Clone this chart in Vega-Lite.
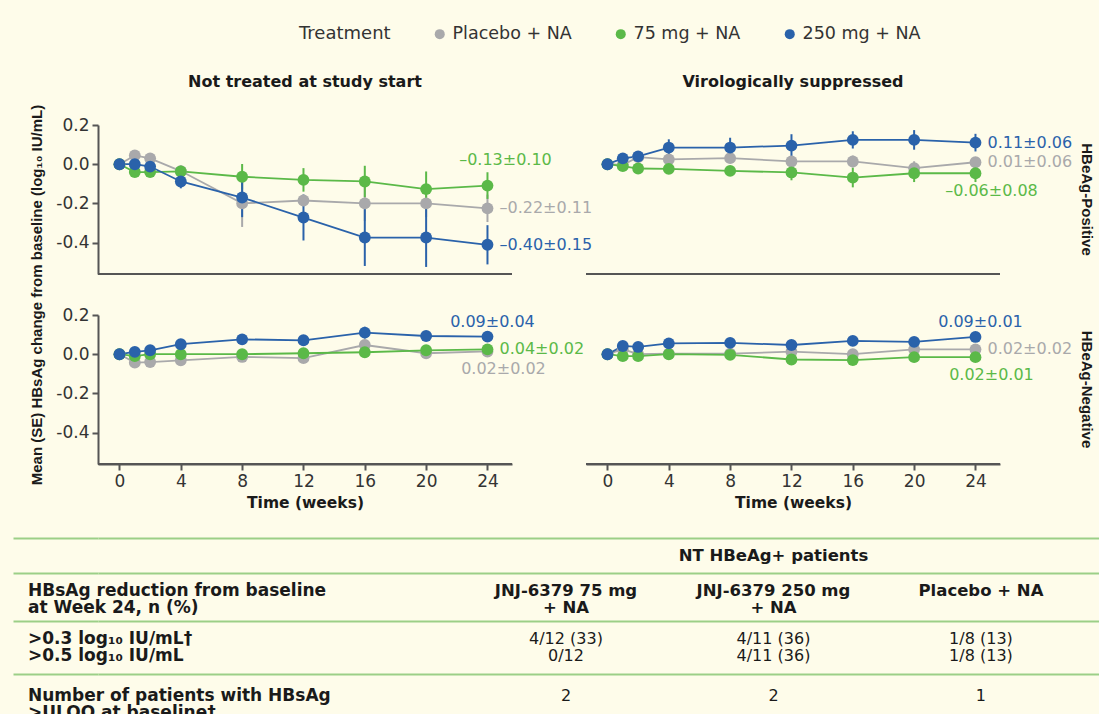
{
  "$schema": "https://vega.github.io/schema/vega-lite/v6.json",
  "background": "#FEFCEA",
  "padding": {"left": 12, "top": 25, "right": 0, "bottom": 0},
  "config": {"view": {"stroke": null}, "font": "DejaVu Sans"},
  "datasets": {
    "series": [
      {"pop":"NT","status":"Pos","trt":"Placebo + NA","week":0,"mean":0,"se":0},
      {"pop":"NT","status":"Pos","trt":"Placebo + NA","week":1,"mean":0.045,"se":0.01},
      {"pop":"NT","status":"Pos","trt":"Placebo + NA","week":2,"mean":0.03,"se":0.01},
      {"pop":"NT","status":"Pos","trt":"Placebo + NA","week":4,"mean":-0.035,"se":0.02},
      {"pop":"NT","status":"Pos","trt":"Placebo + NA","week":8,"mean":-0.2,"se":0.12},
      {"pop":"NT","status":"Pos","trt":"Placebo + NA","week":12,"mean":-0.185,"se":0.03},
      {"pop":"NT","status":"Pos","trt":"Placebo + NA","week":16,"mean":-0.2,"se":0.09},
      {"pop":"NT","status":"Pos","trt":"Placebo + NA","week":20,"mean":-0.2,"se":0.07},
      {"pop":"NT","status":"Pos","trt":"Placebo + NA","week":24,"mean":-0.225,"se":0.07,"label":"–0.22±0.11","pos":"right"},
      {"pop":"NT","status":"Pos","trt":"75 mg + NA","week":0,"mean":0,"se":0},
      {"pop":"NT","status":"Pos","trt":"75 mg + NA","week":1,"mean":-0.04,"se":0.01},
      {"pop":"NT","status":"Pos","trt":"75 mg + NA","week":2,"mean":-0.04,"se":0.01},
      {"pop":"NT","status":"Pos","trt":"75 mg + NA","week":4,"mean":-0.037,"se":0.03},
      {"pop":"NT","status":"Pos","trt":"75 mg + NA","week":8,"mean":-0.064,"se":0.065},
      {"pop":"NT","status":"Pos","trt":"75 mg + NA","week":12,"mean":-0.08,"se":0.06},
      {"pop":"NT","status":"Pos","trt":"75 mg + NA","week":16,"mean":-0.088,"se":0.08},
      {"pop":"NT","status":"Pos","trt":"75 mg + NA","week":20,"mean":-0.127,"se":0.09},
      {"pop":"NT","status":"Pos","trt":"75 mg + NA","week":24,"mean":-0.109,"se":0.068,"label":"–0.13±0.10","pos":"high"},
      {"pop":"NT","status":"Pos","trt":"250 mg + NA","week":0,"mean":0,"se":0},
      {"pop":"NT","status":"Pos","trt":"250 mg + NA","week":1,"mean":0,"se":0.01},
      {"pop":"NT","status":"Pos","trt":"250 mg + NA","week":2,"mean":-0.012,"se":0.01},
      {"pop":"NT","status":"Pos","trt":"250 mg + NA","week":4,"mean":-0.088,"se":0.035},
      {"pop":"NT","status":"Pos","trt":"250 mg + NA","week":8,"mean":-0.17,"se":0.1},
      {"pop":"NT","status":"Pos","trt":"250 mg + NA","week":12,"mean":-0.272,"se":0.117},
      {"pop":"NT","status":"Pos","trt":"250 mg + NA","week":16,"mean":-0.374,"se":0.145},
      {"pop":"NT","status":"Pos","trt":"250 mg + NA","week":20,"mean":-0.374,"se":0.15},
      {"pop":"NT","status":"Pos","trt":"250 mg + NA","week":24,"mean":-0.411,"se":0.1,"label":"–0.40±0.15","pos":"right"},

      {"pop":"VS","status":"Pos","trt":"Placebo + NA","week":0,"mean":0,"se":0},
      {"pop":"VS","status":"Pos","trt":"Placebo + NA","week":1,"mean":-0.003,"se":0.01},
      {"pop":"VS","status":"Pos","trt":"Placebo + NA","week":2,"mean":0.036,"se":0.01},
      {"pop":"VS","status":"Pos","trt":"Placebo + NA","week":4,"mean":0.025,"se":0.015},
      {"pop":"VS","status":"Pos","trt":"Placebo + NA","week":8,"mean":0.031,"se":0.015},
      {"pop":"VS","status":"Pos","trt":"Placebo + NA","week":12,"mean":0.014,"se":0.015},
      {"pop":"VS","status":"Pos","trt":"Placebo + NA","week":16,"mean":0.014,"se":0.03},
      {"pop":"VS","status":"Pos","trt":"Placebo + NA","week":20,"mean":-0.02,"se":0.035},
      {"pop":"VS","status":"Pos","trt":"Placebo + NA","week":24,"mean":0.01,"se":0.02,"label":"0.01±0.06","pos":"right"},
      {"pop":"VS","status":"Pos","trt":"75 mg + NA","week":0,"mean":0,"se":0},
      {"pop":"VS","status":"Pos","trt":"75 mg + NA","week":1,"mean":-0.01,"se":0.01},
      {"pop":"VS","status":"Pos","trt":"75 mg + NA","week":2,"mean":-0.022,"se":0.015},
      {"pop":"VS","status":"Pos","trt":"75 mg + NA","week":4,"mean":-0.024,"se":0.02},
      {"pop":"VS","status":"Pos","trt":"75 mg + NA","week":8,"mean":-0.034,"se":0.02},
      {"pop":"VS","status":"Pos","trt":"75 mg + NA","week":12,"mean":-0.042,"se":0.04},
      {"pop":"VS","status":"Pos","trt":"75 mg + NA","week":16,"mean":-0.068,"se":0.05},
      {"pop":"VS","status":"Pos","trt":"75 mg + NA","week":20,"mean":-0.046,"se":0.045},
      {"pop":"VS","status":"Pos","trt":"75 mg + NA","week":24,"mean":-0.046,"se":0.045,"label":"–0.06±0.08","pos":"below"},
      {"pop":"VS","status":"Pos","trt":"250 mg + NA","week":0,"mean":0,"se":0},
      {"pop":"VS","status":"Pos","trt":"250 mg + NA","week":1,"mean":0.03,"se":0.01},
      {"pop":"VS","status":"Pos","trt":"250 mg + NA","week":2,"mean":0.04,"se":0.01},
      {"pop":"VS","status":"Pos","trt":"250 mg + NA","week":4,"mean":0.085,"se":0.042},
      {"pop":"VS","status":"Pos","trt":"250 mg + NA","week":8,"mean":0.085,"se":0.05},
      {"pop":"VS","status":"Pos","trt":"250 mg + NA","week":12,"mean":0.095,"se":0.058},
      {"pop":"VS","status":"Pos","trt":"250 mg + NA","week":16,"mean":0.124,"se":0.044},
      {"pop":"VS","status":"Pos","trt":"250 mg + NA","week":20,"mean":0.124,"se":0.05},
      {"pop":"VS","status":"Pos","trt":"250 mg + NA","week":24,"mean":0.11,"se":0.045,"label":"0.11±0.06","pos":"right"},

      {"pop":"NT","status":"Neg","trt":"Placebo + NA","week":0,"mean":0,"se":0},
      {"pop":"NT","status":"Neg","trt":"Placebo + NA","week":1,"mean":-0.043,"se":0.01},
      {"pop":"NT","status":"Neg","trt":"Placebo + NA","week":2,"mean":-0.04,"se":0.01},
      {"pop":"NT","status":"Neg","trt":"Placebo + NA","week":4,"mean":-0.031,"se":0.01},
      {"pop":"NT","status":"Neg","trt":"Placebo + NA","week":8,"mean":-0.014,"se":0.01},
      {"pop":"NT","status":"Neg","trt":"Placebo + NA","week":12,"mean":-0.02,"se":0.01},
      {"pop":"NT","status":"Neg","trt":"Placebo + NA","week":16,"mean":0.047,"se":0.015},
      {"pop":"NT","status":"Neg","trt":"Placebo + NA","week":20,"mean":0.005,"se":0.015},
      {"pop":"NT","status":"Neg","trt":"Placebo + NA","week":24,"mean":0.014,"se":0.015,"label":"0.02±0.02","pos":"below"},
      {"pop":"NT","status":"Neg","trt":"75 mg + NA","week":0,"mean":0,"se":0},
      {"pop":"NT","status":"Neg","trt":"75 mg + NA","week":1,"mean":-0.01,"se":0.01},
      {"pop":"NT","status":"Neg","trt":"75 mg + NA","week":2,"mean":0,"se":0.01},
      {"pop":"NT","status":"Neg","trt":"75 mg + NA","week":4,"mean":0,"se":0.01},
      {"pop":"NT","status":"Neg","trt":"75 mg + NA","week":8,"mean":0,"se":0.01},
      {"pop":"NT","status":"Neg","trt":"75 mg + NA","week":12,"mean":0.005,"se":0.01},
      {"pop":"NT","status":"Neg","trt":"75 mg + NA","week":16,"mean":0.01,"se":0.01},
      {"pop":"NT","status":"Neg","trt":"75 mg + NA","week":20,"mean":0.02,"se":0.015},
      {"pop":"NT","status":"Neg","trt":"75 mg + NA","week":24,"mean":0.025,"se":0.015,"label":"0.04±0.02","pos":"right"},
      {"pop":"NT","status":"Neg","trt":"250 mg + NA","week":0,"mean":0,"se":0},
      {"pop":"NT","status":"Neg","trt":"250 mg + NA","week":1,"mean":0.012,"se":0.01},
      {"pop":"NT","status":"Neg","trt":"250 mg + NA","week":2,"mean":0.02,"se":0.01},
      {"pop":"NT","status":"Neg","trt":"250 mg + NA","week":4,"mean":0.051,"se":0.015},
      {"pop":"NT","status":"Neg","trt":"250 mg + NA","week":8,"mean":0.076,"se":0.02},
      {"pop":"NT","status":"Neg","trt":"250 mg + NA","week":12,"mean":0.071,"se":0.025},
      {"pop":"NT","status":"Neg","trt":"250 mg + NA","week":16,"mean":0.11,"se":0.03},
      {"pop":"NT","status":"Neg","trt":"250 mg + NA","week":20,"mean":0.093,"se":0.025},
      {"pop":"NT","status":"Neg","trt":"250 mg + NA","week":24,"mean":0.09,"se":0.02,"label":"0.09±0.04","pos":"above"},

      {"pop":"VS","status":"Neg","trt":"Placebo + NA","week":0,"mean":0,"se":0},
      {"pop":"VS","status":"Neg","trt":"Placebo + NA","week":1,"mean":0.025,"se":0.01},
      {"pop":"VS","status":"Neg","trt":"Placebo + NA","week":2,"mean":0,"se":0.01},
      {"pop":"VS","status":"Neg","trt":"Placebo + NA","week":4,"mean":0.003,"se":0.01},
      {"pop":"VS","status":"Neg","trt":"Placebo + NA","week":8,"mean":0.003,"se":0.01},
      {"pop":"VS","status":"Neg","trt":"Placebo + NA","week":12,"mean":0.013,"se":0.01},
      {"pop":"VS","status":"Neg","trt":"Placebo + NA","week":16,"mean":0,"se":0.01},
      {"pop":"VS","status":"Neg","trt":"Placebo + NA","week":20,"mean":0.025,"se":0.01},
      {"pop":"VS","status":"Neg","trt":"Placebo + NA","week":24,"mean":0.025,"se":0.01,"label":"0.02±0.02","pos":"right"},
      {"pop":"VS","status":"Neg","trt":"75 mg + NA","week":0,"mean":0,"se":0},
      {"pop":"VS","status":"Neg","trt":"75 mg + NA","week":1,"mean":-0.01,"se":0.005},
      {"pop":"VS","status":"Neg","trt":"75 mg + NA","week":2,"mean":-0.01,"se":0.005},
      {"pop":"VS","status":"Neg","trt":"75 mg + NA","week":4,"mean":0,"se":0.005},
      {"pop":"VS","status":"Neg","trt":"75 mg + NA","week":8,"mean":-0.003,"se":0.005},
      {"pop":"VS","status":"Neg","trt":"75 mg + NA","week":12,"mean":-0.027,"se":0.01},
      {"pop":"VS","status":"Neg","trt":"75 mg + NA","week":16,"mean":-0.03,"se":0.01},
      {"pop":"VS","status":"Neg","trt":"75 mg + NA","week":20,"mean":-0.015,"se":0.01},
      {"pop":"VS","status":"Neg","trt":"75 mg + NA","week":24,"mean":-0.015,"se":0.01,"label":"0.02±0.01","pos":"below"},
      {"pop":"VS","status":"Neg","trt":"250 mg + NA","week":0,"mean":0,"se":0},
      {"pop":"VS","status":"Neg","trt":"250 mg + NA","week":1,"mean":0.042,"se":0.01},
      {"pop":"VS","status":"Neg","trt":"250 mg + NA","week":2,"mean":0.037,"se":0.01},
      {"pop":"VS","status":"Neg","trt":"250 mg + NA","week":4,"mean":0.055,"se":0.01},
      {"pop":"VS","status":"Neg","trt":"250 mg + NA","week":8,"mean":0.058,"se":0.01},
      {"pop":"VS","status":"Neg","trt":"250 mg + NA","week":12,"mean":0.047,"se":0.01},
      {"pop":"VS","status":"Neg","trt":"250 mg + NA","week":16,"mean":0.068,"se":0.01},
      {"pop":"VS","status":"Neg","trt":"250 mg + NA","week":20,"mean":0.063,"se":0.01},
      {"pop":"VS","status":"Neg","trt":"250 mg + NA","week":24,"mean":0.088,"se":0.01,"label":"0.09±0.01","pos":"above"}
    ],
    "table": [
      {"row":"hdr","col":"c250","kind":"header","text":"NT HBeAg+ patients"},
      {"row":"colhdr","col":"label","kind":"label","text":"HBsAg reduction from baseline\nat Week 24, n (%)"},
      {"row":"colhdr","col":"c75","kind":"header","text":"JNJ-6379 75 mg\n+ NA"},
      {"row":"colhdr","col":"c250","kind":"header","text":"JNJ-6379 250 mg\n+ NA"},
      {"row":"colhdr","col":"cpl","kind":"header","text":"Placebo + NA"},
      {"row":"t03","col":"label","kind":"label","text":">0.3 log₁₀ IU/mL†"},
      {"row":"t03","col":"c75","kind":"value","text":"4/12 (33)"},
      {"row":"t03","col":"c250","kind":"value","text":"4/11 (36)"},
      {"row":"t03","col":"cpl","kind":"value","text":"1/8 (13)"},
      {"row":"t05","col":"label","kind":"label","text":">0.5 log₁₀ IU/mL"},
      {"row":"t05","col":"c75","kind":"value","text":"0/12"},
      {"row":"t05","col":"c250","kind":"value","text":"4/11 (36)"},
      {"row":"t05","col":"cpl","kind":"value","text":"1/8 (13)"},
      {"row":"n1","col":"label","kind":"label","text":"Number of patients with HBsAg"},
      {"row":"n1","col":"c75","kind":"value","text":"2"},
      {"row":"n1","col":"c250","kind":"value","text":"2"},
      {"row":"n1","col":"cpl","kind":"value","text":"1"},
      {"row":"n2","col":"label","kind":"label","text":">ULOQ at baseline‡"}
    ]
  },
  "spacing": 26,
  "columns": 1,
  "align": "none",
  "concat": [
    {
      "data": {"name": "series"},
      "facet": {
        "row": {
          "field": "status", "type": "nominal", "sort": ["Pos", "Neg"],
          "title": "Mean (SE) HBsAg change from baseline (log₁₀ IU/mL)",
          "header": {
            "labelExpr": "datum.value == 'Pos' ? 'HBeAg-Positive' : 'HBeAg-Negative'",
            "labelOrient": "right", "labelAngle": 90, "labelAlign": "center",
            "labelFont": "Liberation Sans", "labelFontSize": 15, "labelFontWeight": "bold", "labelColor": "#1a1a1a",
            "labelPadding": 79,
            "titleOrient": "left", "titleAngle": -90,
            "titleFont": "Liberation Sans", "titleFontSize": 15, "titleFontWeight": "bold", "titleColor": "#1a1a1a",
            "titlePadding": -15
          }
        },
        "column": {
          "field": "pop", "type": "nominal", "sort": ["NT", "VS"], "title": null,
          "header": {
            "labelExpr": "datum.value == 'NT' ? 'Not treated at study start' : 'Virologically suppressed'",
            "labelFont": "DejaVu Sans", "labelFontSize": 16, "labelFontWeight": "bold", "labelColor": "#1a1a1a",
            "labelPadding": 35
          }
        }
      },
      "spacing": {"row": 41, "column": 74},
      "bounds": "flush",
      "spec": {
        "width": 414,
        "height": 149,
        "layer": [
          {
            "mark": {"type": "errorbar", "thickness": 2},
            "encoding": {
              "x": {"field": "week", "type": "quantitative"},
              "y": {"field": "mean", "type": "quantitative"},
              "yError": {"field": "se"},
              "color": {"field": "trt", "type": "nominal"}
            }
          },
          {
            "mark": {"type": "line", "strokeWidth": 1.8},
            "encoding": {
              "x": {"field": "week", "type": "quantitative"},
              "y": {"field": "mean", "type": "quantitative"},
              "color": {"field": "trt", "type": "nominal"},
              "order": {"field": "week"}
            }
          },
          {
            "mark": {"type": "circle", "size": 140, "opacity": 1},
            "encoding": {
              "x": {
                "field": "week", "type": "quantitative",
                "scale": {"domain": [-1.4, 25.6], "nice": false, "zero": false},
                "axis": {
                  "values": [0, 4, 8, 12, 16, 20, 24], "title": "Time (weeks)", "grid": false,
                  "tickSize": 6, "tickWidth": 2, "tickColor": "#555", "domainColor": "#555", "domainWidth": 2,
                  "labelPadding": 3, "labelFont": "DejaVu Sans", "labelFontSize": 17, "labelColor": "#333",
                  "titleFont": "DejaVu Sans", "titleFontSize": 15.5, "titleFontWeight": "bold", "titleColor": "#1a1a1a", "titlePadding": 6
                }
              },
              "y": {
                "field": "mean", "type": "quantitative",
                "scale": {"domain": [-0.56, 0.2], "nice": false, "zero": false},
                "axis": {
                  "values": [0.2, 0, -0.2, -0.4], "title": null, "grid": false,
                  "labelExpr": "replace(format(datum.value, '.1f'), '−', '-')",
                  "tickSize": 6, "tickWidth": 2, "tickColor": "#555", "domainColor": "#555", "domainWidth": 2,
                  "labelPadding": 3, "labelFont": "DejaVu Sans", "labelFontSize": 17, "labelColor": "#333"
                }
              },
              "color": {
                "field": "trt", "type": "nominal",
                "scale": {"domain": ["Placebo + NA", "75 mg + NA", "250 mg + NA"], "range": ["#A9A9AB", "#5BB948", "#2A62AA"]},
                "legend": {
                  "orient": "none", "legendX": 201, "legendY": -100, "direction": "horizontal",
                  "title": "Treatment", "titleOrient": "left", "titleFont": "DejaVu Sans", "titleFontSize": 18,
                  "titleFontWeight": "normal", "titleColor": "#333", "titlePadding": 40,
                  "labelFont": "DejaVu Sans", "labelFontSize": 17.5, "labelColor": "#333", "labelOffset": 4,
                  "symbolType": "circle", "symbolSize": 100, "symbolStrokeWidth": 0, "columnPadding": 40,
                  "encode": {"symbols": {"update": {"fill": {"scale": "color", "field": "value"}, "opacity": {"value": 1}}}}
                }
              }
            }
          },
          {
            "transform": [{"filter": "datum.pos == 'right'"}],
            "mark": {"type": "text", "align": "left", "baseline": "middle", "dx": 12, "font": "DejaVu Sans", "fontSize": 16},
            "encoding": {
              "x": {"field": "week", "type": "quantitative"},
              "y": {"field": "mean", "type": "quantitative"},
              "text": {"field": "label"},
              "color": {"field": "trt", "type": "nominal"}
            }
          },
          {
            "transform": [{"filter": "datum.pos == 'above'"}],
            "mark": {"type": "text", "align": "center", "baseline": "middle", "dx": 5, "dy": -15, "font": "DejaVu Sans", "fontSize": 16},
            "encoding": {
              "x": {"field": "week", "type": "quantitative"},
              "y": {"field": "mean", "type": "quantitative"},
              "text": {"field": "label"},
              "color": {"field": "trt", "type": "nominal"}
            }
          },
          {
            "transform": [{"filter": "datum.pos == 'high'"}],
            "mark": {"type": "text", "align": "center", "baseline": "middle", "dx": 18, "dy": -26, "font": "DejaVu Sans", "fontSize": 16},
            "encoding": {
              "x": {"field": "week", "type": "quantitative"},
              "y": {"field": "mean", "type": "quantitative"},
              "text": {"field": "label"},
              "color": {"field": "trt", "type": "nominal"}
            }
          },
          {
            "transform": [{"filter": "datum.pos == 'below'"}],
            "mark": {"type": "text", "align": "center", "baseline": "middle", "dx": 16, "dy": 18, "font": "DejaVu Sans", "fontSize": 16},
            "encoding": {
              "x": {"field": "week", "type": "quantitative"},
              "y": {"field": "mean", "type": "quantitative"},
              "text": {"field": "label"},
              "color": {"field": "trt", "type": "nominal"}
            }
          },
          {
            "transform": [{"filter": "datum.week == 0 && datum.trt == 'Placebo + NA'"}],
            "mark": {"type": "rule", "color": "#555", "strokeWidth": 2},
            "encoding": {"y": {"datum": -0.56}}
          }
        ]
      }
    },
    {
      "data": {"name": "table"},
      "width": 1002,
      "height": 175,
      "resolve": {"scale": {"x": "independent"}},
      "layer": [
        {
          "transform": [{"filter": "datum.kind == 'label'"}],
          "mark": {"type": "text", "align": "left", "baseline": "middle", "dx": -70, "lineBreak": "\n", "lineHeight": 17, "font": "DejaVu Sans", "fontSize": 17, "fontWeight": "bold", "color": "#1a1a1a"},
          "encoding": {
            "x": {"field": "col", "type": "nominal", "scale": {"type": "band", "domain": ["label"], "paddingInner": 0, "paddingOuter": 0}, "bandPosition": 0, "axis": null},
            "y": {
              "field": "row", "type": "nominal",
              "scale": {
                "type": "point", "padding": 0,
                "domain": ["r1", "_1", "_2", "_3", "hdr", "_5", "_6", "_7", "r2", "_9", "_10", "_11", "colhdr", "_13", "_14", "_15", "_16", "_17", "_18", "r3", "_20", "_21", "_22", "t03", "_24", "_25", "_26", "t05", "_28", "_29", "_30", "r4", "_32", "_33", "_34", "_35", "n1", "_37", "_38", "_39", "n2"]
              },
              "axis": {
                "values": ["r1", "r2", "r3", "r4"], "title": null, "labels": false, "domain": false,
                "ticks": true, "tickSize": 85, "tickWidth": 2, "tickColor": "#9CCF87",
                "grid": true, "gridWidth": 2, "gridColor": "#9CCF87", "gridOpacity": 1
              }
            },
            "text": {"field": "text"}
          }
        },
        {
          "transform": [{"filter": "datum.kind == 'header'"}],
          "mark": {"type": "text", "align": "center", "baseline": "middle", "lineBreak": "\n", "lineHeight": 17, "font": "DejaVu Sans", "fontSize": 16.5, "fontWeight": "bold", "color": "#1a1a1a"},
          "encoding": {
            "x": {"field": "col", "type": "nominal", "scale": {"type": "point", "domain": ["_a", "_b", "c75", "c250", "cpl"], "padding": 0.4145, "align": 0.308}, "axis": null},
            "y": {"field": "row", "type": "nominal"},
            "text": {"field": "text"}
          }
        },
        {
          "transform": [{"filter": "datum.kind == 'value'"}],
          "mark": {"type": "text", "align": "center", "baseline": "middle", "font": "DejaVu Sans", "fontSize": 16, "color": "#1a1a1a"},
          "encoding": {
            "x": {"field": "col", "type": "nominal", "scale": {"type": "point", "domain": ["_a", "_b", "c75", "c250", "cpl"], "padding": 0.4145, "align": 0.308}, "axis": null},
            "y": {"field": "row", "type": "nominal"},
            "text": {"field": "text"}
          }
        }
      ]
    }
  ]
}
